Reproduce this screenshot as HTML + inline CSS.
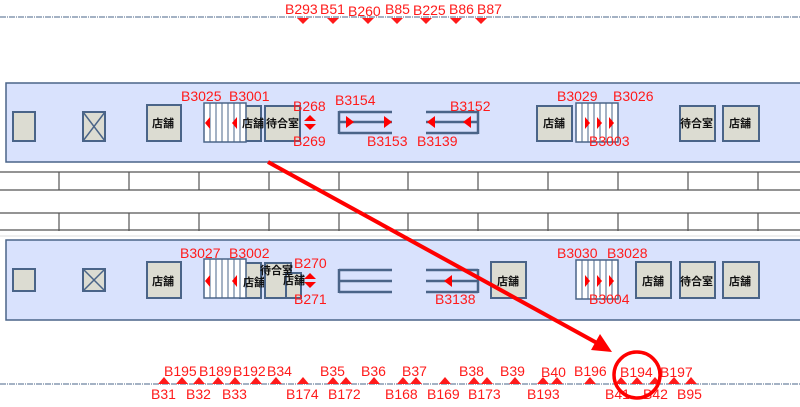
<!DOCTYPE html>
<html><head><meta charset="utf-8"><style>
html,body{margin:0;padding:0;background:#fff;width:800px;height:407px;overflow:hidden}
text{font-family:"Liberation Sans","Noto Sans CJK JP",sans-serif}
.r{fill:#ff1a1a;font-size:14px}
.k{fill:#111;font-size:11px;font-weight:bold}
.bx{fill:#dcdcd2;stroke:#4a6488;stroke-width:2}
</style></head><body>
<svg width="800" height="407" xmlns="http://www.w3.org/2000/svg">
<defs>
<g id="st"><rect x="0" y="0" width="42" height="39" fill="#fff" stroke="#4a6488" stroke-width="1.5"/>
<g stroke="#4a6488" stroke-width="1"><line x1="6" y1="0" x2="6" y2="39"/><line x1="12" y1="0" x2="12" y2="39"/><line x1="18" y1="0" x2="18" y2="39"/><line x1="24" y1="0" x2="24" y2="39"/><line x1="30" y1="0" x2="30" y2="39"/><line x1="36" y1="0" x2="36" y2="39"/></g></g>
</defs>
<line x1="0" y1="17" x2="800" y2="17" stroke="#4a6488" stroke-width="1" stroke-dasharray="6,1,1,1"/>
<g class="r">
<text x="285" y="14">B293</text><text x="320" y="14">B51</text><text x="348" y="16">B260</text><text x="385" y="14">B85</text><text x="413" y="15">B225</text><text x="449" y="14">B86</text><text x="477" y="14">B87</text></g>
<g fill="#ff1a1a">
<polygon points="297,18 309,18 303,24"/><polygon points="327,18 339,18 333,24"/><polygon points="362,18 374,18 368,24"/><polygon points="391,18 403,18 397,24"/><polygon points="420,18 432,18 426,24"/><polygon points="450,18 462,18 456,24"/><polygon points="475,18 487,18 481,24"/></g>

<rect x="6" y="83" width="800" height="79" fill="#d9e2fd" stroke="#4a6488" stroke-width="1.5"/>
<rect x="6" y="240" width="800" height="80" fill="#d9e2fd" stroke="#4a6488" stroke-width="1.5"/>

<g stroke="#555" stroke-width="1.2">
<line x1="0" y1="172" x2="800" y2="172"/><line x1="0" y1="190" x2="800" y2="190"/>
<line x1="0" y1="213" x2="800" y2="213"/><line x1="0" y1="230" x2="800" y2="230"/>
<g id="dv">
<line x1="59" y1="172" x2="59" y2="190"/><line x1="129" y1="172" x2="129" y2="190"/><line x1="199" y1="172" x2="199" y2="190"/><line x1="269" y1="172" x2="269" y2="190"/><line x1="339" y1="172" x2="339" y2="190"/><line x1="408" y1="172" x2="408" y2="190"/><line x1="478" y1="172" x2="478" y2="190"/><line x1="548" y1="172" x2="548" y2="190"/><line x1="618" y1="172" x2="618" y2="190"/><line x1="688" y1="172" x2="688" y2="190"/><line x1="758" y1="172" x2="758" y2="190"/></g>
<use href="#dv" y="41"/>
</g>
<line x1="0" y1="236" x2="800" y2="236" stroke="#ddd"/>

<rect class="bx" x="13" y="112" width="22" height="29"/>
<rect class="bx" x="83" y="112" width="22" height="29"/>
<path d="M83,112 L105,141 M105,112 L83,141" stroke="#4a6488" stroke-width="1.5"/>
<rect class="bx" x="147" y="105" width="34" height="36"/><text class="k" x="152" y="127">店舗</text>
<rect class="bx" x="240" y="106" width="21" height="35"/>
<use href="#st" x="204" y="103"/>
<polygon points="210,117 210,129 205,123" fill="#f00"/><polygon points="237,117 237,129 232,123" fill="#f00"/>
<text class="k" x="242" y="127">店舗</text>
<rect class="bx" x="265" y="106" width="35" height="35"/><text class="k" x="266" y="127">待合室</text>
<polygon points="304,121 316,121 310,115" fill="#f00"/><polygon points="304,124 316,124 310,130" fill="#f00"/>
<g stroke="#4a6488" stroke-width="2.5"><line x1="339" y1="112" x2="392" y2="112"/><line x1="339" y1="122" x2="392" y2="122"/><line x1="339" y1="133" x2="392" y2="133"/><line x1="339" y1="111" x2="339" y2="134"/>
<line x1="426" y1="112" x2="478" y2="112"/><line x1="426" y1="122" x2="478" y2="122"/><line x1="426" y1="133" x2="478" y2="133"/><line x1="478" y1="111" x2="478" y2="134"/></g>
<polygon points="346,116 346,128 354,122" fill="#f00"/><polygon points="384,116 384,128 392,122" fill="#f00"/>
<polygon points="435,116 435,128 427,122" fill="#f00"/><polygon points="471,116 471,128 463,122" fill="#f00"/>
<rect class="bx" x="537" y="106" width="35" height="35"/><text class="k" x="543" y="127">店舗</text>
<use href="#st" x="576" y="103"/>
<polygon points="585,117 585,129 590,123" fill="#f00"/><polygon points="597,117 597,129 602,123" fill="#f00"/><polygon points="609,117 609,129 614,123" fill="#f00"/>
<rect class="bx" x="680" y="106" width="35" height="35"/><text class="k" x="680" y="127">待合室</text>
<rect class="bx" x="723" y="106" width="36" height="35"/><text class="k" x="729" y="127">店舗</text>

<rect class="bx" x="13" y="269" width="22" height="22"/>
<rect class="bx" x="83" y="269" width="22" height="22"/>
<path d="M83,269 L105,291 M105,269 L83,291" stroke="#4a6488" stroke-width="1.5"/>
<rect class="bx" x="147" y="262" width="34" height="36"/><text class="k" x="152" y="285">店舗</text>
<rect class="bx" x="240" y="263" width="21" height="35"/>
<use href="#st" x="204" y="259"/>
<polygon points="210,275 210,287 205,281" fill="#f00"/><polygon points="237,275 237,287 232,281" fill="#f00"/>
<text class="k" x="243" y="286">店舗</text>
<rect class="bx" x="265" y="263" width="26" height="35"/>
<rect class="bx" x="286" y="273" width="15" height="25"/>
<text class="k" x="260" y="274">待合室</text><text class="k" x="283" y="284">店舗</text>
<polygon points="304,279 316,279 310,273" fill="#f00"/><polygon points="304,282 316,282 310,288" fill="#f00"/>
<g stroke="#4a6488" stroke-width="2.5"><line x1="339" y1="270" x2="392" y2="270"/><line x1="339" y1="281" x2="392" y2="281"/><line x1="339" y1="292" x2="392" y2="292"/><line x1="339" y1="269" x2="339" y2="293"/>
<line x1="426" y1="270" x2="478" y2="270"/><line x1="426" y1="281" x2="478" y2="281"/><line x1="426" y1="292" x2="478" y2="292"/><line x1="478" y1="269" x2="478" y2="293"/></g>
<polygon points="452,275 452,287 444,281" fill="#f00"/>
<rect class="bx" x="491" y="262" width="35" height="36"/><text class="k" x="497" y="285">店舗</text>
<use href="#st" x="576" y="260"/>
<polygon points="585,275 585,287 590,281" fill="#f00"/><polygon points="597,275 597,287 602,281" fill="#f00"/><polygon points="609,275 609,287 614,281" fill="#f00"/>
<rect class="bx" x="636" y="262" width="35" height="36"/><text class="k" x="642" y="285">店舗</text>
<rect class="bx" x="680" y="262" width="35" height="36"/><text class="k" x="680" y="285">待合室</text>
<rect class="bx" x="723" y="262" width="36" height="36"/><text class="k" x="729" y="285">店舗</text>

<g class="r"><text x="181" y="101">B3025</text><text x="229" y="101">B3001</text><text x="293" y="111">B268</text><text x="293" y="146">B269</text>
<text x="335" y="105">B3154</text><text x="367" y="146">B3153</text><text x="450" y="111">B3152</text><text x="417" y="146">B3139</text>
<text x="557" y="101">B3029</text><text x="613" y="101">B3026</text><text x="589" y="146">B3003</text></g>
<g class="r"><text x="180" y="258">B3027</text><text x="229" y="258">B3002</text><text x="294" y="268">B270</text><text x="294" y="304">B271</text>
<text x="435" y="304">B3138</text><text x="557" y="258">B3030</text><text x="607" y="258">B3028</text><text x="589" y="304">B3004</text></g>

<line x1="0" y1="384" x2="800" y2="384" stroke="#4a6488" stroke-width="1" stroke-dasharray="6,1,1,1"/>
<g fill="#ff1a1a">
<polygon points="158,384 170,384 164,377"/><polygon points="176,384 188,384 182,377"/><polygon points="193,384 205,384 199,377"/><polygon points="212,384 224,384 218,377"/><polygon points="229,384 241,384 235,377"/><polygon points="250,384 262,384 256,377"/><polygon points="270,384 282,384 276,377"/><polygon points="297,384 309,384 303,377"/><polygon points="327,384 339,384 333,377"/><polygon points="340,384 352,384 346,377"/><polygon points="368,384 380,384 374,377"/><polygon points="397,384 409,384 403,377"/><polygon points="410,384 422,384 416,377"/><polygon points="439,384 451,384 445,377"/><polygon points="468,384 480,384 474,377"/><polygon points="481,384 493,384 487,377"/><polygon points="509,384 521,384 515,377"/><polygon points="537,384 549,384 543,377"/><polygon points="551,384 563,384 557,377"/><polygon points="584,384 596,384 590,377"/><polygon points="615,384 627,384 621,377"/><polygon points="631,384 643,384 637,377"/><polygon points="649,384 661,384 655,377"/><polygon points="668,384 680,384 674,377"/><polygon points="685,384 697,384 691,377"/></g>
<g class="r">
<text x="164" y="376">B195</text><text x="199" y="376">B189</text><text x="233" y="376">B192</text><text x="267" y="376">B34</text><text x="320" y="376">B35</text><text x="361" y="376">B36</text><text x="402" y="376">B37</text><text x="459" y="376">B38</text><text x="500" y="376">B39</text><text x="541" y="377">B40</text><text x="574" y="376">B196</text><text x="620" y="377">B194</text><text x="660" y="377">B197</text>
<text x="151" y="399">B31</text><text x="186" y="399">B32</text><text x="222" y="399">B33</text><text x="286" y="399">B174</text><text x="328" y="399">B172</text><text x="385" y="399">B168</text><text x="427" y="399">B169</text><text x="468" y="399">B173</text><text x="527" y="399">B193</text><text x="605" y="399">B41</text><text x="643" y="399">B42</text><text x="677" y="399">B95</text></g>

<line x1="268" y1="162" x2="597" y2="343" stroke="#f00" stroke-width="4"/>
<polygon points="612,352 591,350 600,334" fill="#f00"/>
<circle cx="637" cy="375" r="23" fill="none" stroke="#f00" stroke-width="3.5"/>
</svg>
</body></html>
